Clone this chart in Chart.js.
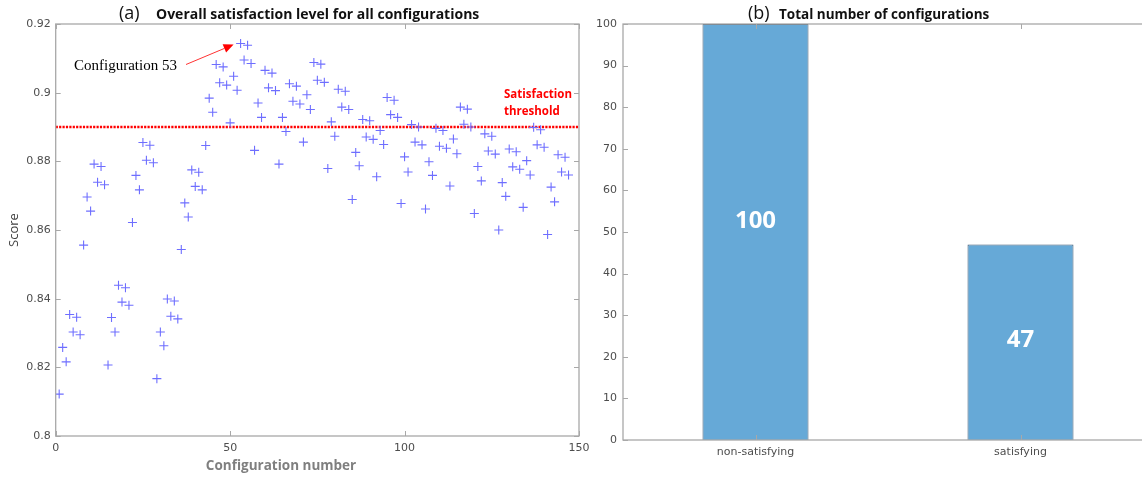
<!DOCTYPE html>
<html>
<head>
<meta charset="utf-8">
<script src="https://cdn.jsdelivr.net/npm/chart.js@4"></script>
<style>
  html, body { margin:0; padding:0; background:#fff; overflow:hidden; width:1142px; height:477px; }
  #leftWrap { position:absolute; left:0; top:0; width:600px; height:477px; }
  #rightWrap { position:absolute; left:580px; top:0; width:562px; height:477px; overflow:hidden; }
  canvas { display:block; }
</style>
</head>
<body>
<div id="leftWrap"><canvas id="c1" width="600" height="477"></canvas></div>
<div id="rightWrap"><canvas id="c2" width="573" height="477"></canvas></div>
<script>
// ---------- DATA ----------
const scores = [
  0.8122, 0.8258, 0.8216, 0.8354, 0.8303, 0.8346, 0.8295, 0.8556, 0.8696, 0.8655,
  0.8792, 0.8739, 0.8785, 0.8732, 0.8207, 0.8345, 0.8303, 0.8439, 0.8390, 0.8432,
  0.8381, 0.8622, 0.8759, 0.8717, 0.8855, 0.8803, 0.8847, 0.8796, 0.8167, 0.8303,
  0.8263, 0.8399, 0.8349, 0.8393, 0.8341, 0.8543, 0.8679, 0.8638, 0.8775, 0.8727,
  0.8768, 0.8717, 0.8846, 0.8984, 0.8943, 0.9082, 0.9029, 0.9075, 0.9022, 0.8912,
  0.9048, 0.9007, 0.9143, 0.9095, 0.9138, 0.9085, 0.8832, 0.8970, 0.8928, 0.9065,
  0.9014, 0.9057, 0.9006, 0.8792, 0.8928, 0.8887, 0.9026, 0.8975, 0.9019, 0.8967,
  0.8856, 0.8994, 0.8951, 0.9088, 0.9036, 0.9083, 0.9030, 0.8779, 0.8915, 0.8873,
  0.9010, 0.8958, 0.9004, 0.8951, 0.8689, 0.8826, 0.8787, 0.8922, 0.8871, 0.8918,
  0.8864, 0.8755, 0.8890, 0.8849, 0.8986, 0.8936, 0.8978, 0.8928, 0.8677, 0.8813,
  0.8769, 0.8907, 0.8856, 0.8900, 0.8848, 0.8661, 0.8799, 0.8759, 0.8896, 0.8844,
  0.8890, 0.8838, 0.8728, 0.8865, 0.8822, 0.8958, 0.8908, 0.8952, 0.8900, 0.8648,
  0.8785, 0.8743, 0.8880, 0.8830, 0.8873, 0.8821, 0.8600, 0.8738, 0.8698, 0.8836,
  0.8784, 0.8828, 0.8777, 0.8666, 0.8802, 0.8760, 0.8899, 0.8848, 0.8892, 0.8841,
  0.8587, 0.8725, 0.8682, 0.8819, 0.8769, 0.8812, 0.8760
];
const threshold = 0.89;
const thresholdRange = [0, 150];
const highlightConfig = 53;
const xTicksLeft = [0, 50, 100, 150];
const yTicksLeft = [0.8, 0.82, 0.84, 0.86, 0.88, 0.9, 0.92];

const barCategories = ['non-satisfying', 'satisfying'];
const barCounts = [100, 47];
const barLabelPos = [52.5, 24];
const yTicksRight = [0,10,20,30,40,50,60,70,80,90,100];

// ---------- STYLE ----------
const FRAME = '#a8a8a8';
const TICKTXT = '#4d4d4d';
const tickFont = { family: 'DejaVu Sans', size: 11 };
const fmt = v => String(Number(Number(v).toFixed(2)));

function drawFrameAndTicks(chart, xTickVals, yTickVals) {
  const {ctx, chartArea: a, scales} = chart;
  ctx.save();
  ctx.strokeStyle = FRAME;
  ctx.lineWidth = 1.3;
  ctx.strokeRect(a.left, a.top, a.right - a.left, a.bottom - a.top);
  ctx.lineWidth = 1;
  const L = 5;
  ctx.beginPath();
  xTickVals.forEach(v => {
    const px = Math.round(scales.x.getPixelForValue(v)) + 0.5;
    ctx.moveTo(px, a.bottom); ctx.lineTo(px, a.bottom - L);
    ctx.moveTo(px, a.top); ctx.lineTo(px, a.top + L);
  });
  yTickVals.forEach(v => {
    const py = Math.round(scales.y.getPixelForValue(v)) + 0.5;
    ctx.moveTo(a.left, py); ctx.lineTo(a.left + L, py);
    ctx.moveTo(a.right, py); ctx.lineTo(a.right - L, py);
  });
  ctx.stroke();
  ctx.restore();
}

// ---------- LEFT CHART ----------
const leftDecor = {
  id: 'leftDecor',
  afterDraw(chart) {
    const {ctx, scales} = chart;
    drawFrameAndTicks(chart, xTicksLeft, yTicksLeft);
    ctx.save();
    // title
    ctx.fillStyle = '#111';
    ctx.textBaseline = 'middle';
    ctx.textAlign = 'left';
    ctx.font = "18px 'Open Sans'";
    ctx.fillText('(a)', 119, 14);
    ctx.font = "bold 14px 'Open Sans'";
    ctx.fillText('Overall satisfaction level for all configurations', 156, 15);
    // axis titles
    ctx.fillStyle = '#7f7f7f';
    ctx.textAlign = 'center';
    ctx.font = "bold 13.5px 'Open Sans'";
    ctx.fillText('Configuration number', 281, 466);
    ctx.save();
    ctx.translate(14, 230);
    ctx.rotate(-Math.PI / 2);
    ctx.fillStyle = '#404040';
    ctx.font = "13px 'Open Sans'";
    ctx.fillText('Score', 0, 0);
    ctx.restore();
    // threshold label
    ctx.fillStyle = '#ff0000';
    ctx.textAlign = 'left';
    ctx.font = "bold 11.5px 'Open Sans'";
    ctx.fillText('Satisfaction', 504, 95);
    ctx.fillText('threshold', 504, 112);
    // annotation
    ctx.fillStyle = '#000';
    ctx.font = "15px 'Liberation Serif'";
    ctx.fillText('Configuration ' + highlightConfig, 74, 66);
    const tipX = scales.x.getPixelForValue(highlightConfig) - 7;
    const tipY = scales.y.getPixelForValue(scores[highlightConfig - 1]) + 1;
    const sx = 186, sy = 64.5;
    const ang = Math.atan2(tipY - sy, tipX - sx);
    const hl = 10, hw = 4.5;
    const bx = tipX - hl * Math.cos(ang), by = tipY - hl * Math.sin(ang);
    ctx.strokeStyle = '#ff3333';
    ctx.lineWidth = 1;
    ctx.beginPath(); ctx.moveTo(sx, sy); ctx.lineTo(bx, by); ctx.stroke();
    ctx.fillStyle = '#ff0000';
    ctx.beginPath();
    ctx.moveTo(tipX, tipY);
    ctx.lineTo(bx + hw * Math.sin(ang), by - hw * Math.cos(ang));
    ctx.lineTo(bx - hw * Math.sin(ang), by + hw * Math.cos(ang));
    ctx.closePath(); ctx.fill();
    ctx.restore();
  }
};

new Chart(document.getElementById('c1'), {
  type: 'scatter',
  data: {
    datasets: [
      {
        data: scores.map((v, i) => ({x: i + 1, y: v})),
        pointStyle: 'cross',
        pointRadius: 4.5,
        pointBorderWidth: 1.1,
        borderColor: '#6e6eff',
        backgroundColor: '#6e6eff',
        showLine: false
      },
      {
        type: 'line',
        data: thresholdRange.map(x => ({x: x, y: threshold})),
        borderColor: '#ff0000',
        borderWidth: 2.6,
        borderDash: [2.2, 1.2],
        pointRadius: 0,
        fill: false
      }
    ]
  },
  options: {
    responsive: false,
    animation: false,
    devicePixelRatio: 1,
    layout: { padding: { left: 0, top: 24, right: 21, bottom: 0 } },
    plugins: { legend: { display: false }, tooltip: { enabled: false } },
    scales: {
      x: {
        type: 'linear', min: 0, max: 150,
        afterBuildTicks: s => { s.ticks = xTicksLeft.map(v => ({value: v})); },
        ticks: { color: TICKTXT, font: tickFont, padding: 6, maxRotation: 0, callback: fmt },
        grid: { display: false, drawTicks: false },
        border: { display: false },
        afterFit: s => { s.height = 41; }
      },
      y: {
        type: 'linear', min: 0.8, max: 0.92,
        afterBuildTicks: s => { s.ticks = yTicksLeft.map(v => ({value: v})); },
        ticks: { color: TICKTXT, font: tickFont, padding: 5, callback: fmt },
        grid: { display: false, drawTicks: false },
        border: { display: false },
        afterFit: s => { s.width = 55.7; }
      }
    }
  },
  plugins: [leftDecor]
});

// ---------- RIGHT CHART ----------
const rightDecor = {
  id: 'rightDecor',
  afterDraw(chart) {
    const {ctx, scales} = chart;
    drawFrameAndTicks(chart, [0, 1], yTicksRight);
    ctx.save();
    // bar labels
    ctx.fillStyle = '#ffffff';
    ctx.textAlign = 'center';
    ctx.textBaseline = 'middle';
    ctx.font = "bold 24px 'Open Sans'";
    barCounts.forEach((v, i) => {
      ctx.fillText(String(v), scales.x.getPixelForValue(i), scales.y.getPixelForValue(barLabelPos[i]));
    });
    // title (canvas offset 580)
    ctx.fillStyle = '#111';
    ctx.textAlign = 'left';
    ctx.font = "18px 'Open Sans'";
    ctx.fillText('(b)', 748 - 580, 14);
    ctx.font = "bold 13.5px 'Open Sans'";
    ctx.fillText('Total number of configurations', 779 - 580, 15);
    ctx.restore();
  }
};

new Chart(document.getElementById('c2'), {
  type: 'bar',
  data: {
    labels: barCategories,
    datasets: [{
      data: barCounts,
      backgroundColor: '#66a9d7',
      borderColor: '#3a5670',
      borderWidth: 1,
      barPercentage: 0.4,
      categoryPercentage: 1
    }]
  },
  options: {
    responsive: false,
    animation: false,
    devicePixelRatio: 1,
    layout: { padding: { left: 0, top: 24, right: 0, bottom: 0 } },
    plugins: { legend: { display: false }, tooltip: { enabled: false } },
    scales: {
      x: {
        offset: true,
        ticks: { color: TICKTXT, font: tickFont, padding: 6, maxRotation: 0 },
        grid: { display: false, drawTicks: false },
        border: { display: false },
        afterFit: s => { s.height = 37; }
      },
      y: {
        min: 0, max: 100,
        afterBuildTicks: s => { s.ticks = yTicksRight.map(v => ({value: v})); },
        ticks: { color: TICKTXT, font: tickFont, padding: 6 },
        grid: { display: false, drawTicks: false },
        border: { display: false },
        afterFit: s => { s.width = 43; }
      }
    }
  },
  plugins: [rightDecor]
});
</script>
</body>
</html>
